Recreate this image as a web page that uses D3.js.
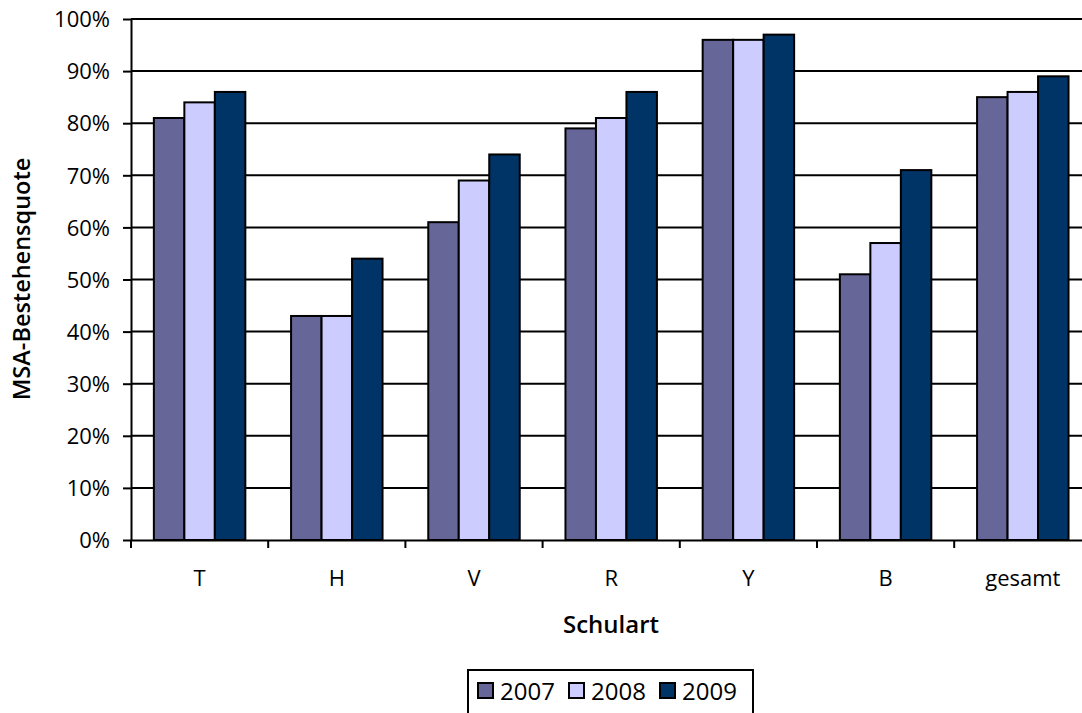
<!DOCTYPE html>
<html><head><meta charset="utf-8">
<script src="https://cdn.jsdelivr.net/npm/d3@7"></script>
<style>body{margin:0;background:#fff;overflow:hidden}svg{display:block}text{font-family:"Open Sans","Noto Sans",sans-serif;fill:#000}</style>
</head><body>
<svg id="c" width="1082" height="713"></svg>
<script>
const categories = ["T","H","V","R","Y","B","gesamt"];
const seriesNames = ["2007","2008","2009"];
const v2007 = [81,43,61,79,96,51,85];
const v2008 = [84,43,69,81,96,57,86];
const v2009 = [86,54,74,86,97,71,89];
const yTicks = [0,10,20,30,40,50,60,70,80,90,100];
const colors = ["#666699","#CCCCFF","#003366"];
const series = [v2007,v2008,v2009];

const svg = d3.select("#c");
const L = 131, T = 19, B = 540, catW = 137.2;
const R = L + catW*categories.length;
const x = d3.scaleBand().domain(categories).range([L,R]).paddingInner(0).paddingOuter(0);
const y = d3.scaleLinear().domain([0,100]).range([B,T]);

// gridlines
svg.append("g").selectAll("line").data(yTicks.filter(d=>d>0)).join("line")
  .attr("x1",L).attr("x2",R).attr("y1",d=>y(d)).attr("y2",d=>y(d))
  .attr("stroke","#000").attr("stroke-width",2);

// bars
const bw = x.bandwidth()/4.5;
series.forEach((vals,si)=>{
  svg.append("g").selectAll("rect").data(categories).join("rect")
    .attr("x",(c)=>x(c)+bw*0.75+si*bw)
    .attr("y",(c,i)=>y(vals[i]))
    .attr("width",bw)
    .attr("height",(c,i)=>y(0)-y(vals[i]))
    .attr("fill",colors[si]).attr("stroke","#000").attr("stroke-width",2);
});

// y axis
const ya = d3.axisLeft(y).tickValues(yTicks).tickFormat(d=>d+"%").tickSize(8).tickSizeOuter(0);
const yg = svg.append("g").attr("transform",`translate(${L},0)`).call(ya);
yg.attr("font-size",null).attr("font-family",null);
yg.select(".domain").attr("stroke","#000").attr("stroke-width",2);
yg.selectAll(".tick line").attr("stroke","#000").attr("stroke-width",2);
yg.selectAll(".tick text").attr("font-size",22).attr("x",-21).attr("dy","0.35em");

// x axis
const xa = d3.axisBottom(x).tickSize(0).tickSizeOuter(0);
const xg = svg.append("g").attr("transform",`translate(0,${B})`).call(xa);
xg.attr("font-size",null).attr("font-family",null);
xg.select(".domain").attr("stroke","#000").attr("stroke-width",2);
xg.selectAll(".tick text").attr("font-size",22).attr("y",46).attr("dy",0);
// boundary ticks
svg.append("g").selectAll("line").data(d3.range(categories.length+1)).join("line")
  .attr("x1",i=>L+i*catW).attr("x2",i=>L+i*catW).attr("y1",B).attr("y2",B+8)
  .attr("stroke","#000").attr("stroke-width",2);

// axis titles
svg.append("text").attr("x",611).attr("y",633).attr("text-anchor","middle")
  .attr("font-size",24).attr("font-weight","600").text("Schulart");
svg.append("text").attr("transform",`translate(30,${279}) rotate(-90)`).attr("text-anchor","middle")
  .attr("font-size",23.5).attr("font-weight","600").text("MSA-Bestehensquote");

// legend
const lg = svg.append("g");
lg.append("rect").attr("x",468).attr("y",670).attr("width",285).attr("height",50)
  .attr("fill","#fff").attr("stroke","#000").attr("stroke-width",2);
const lx = [478,569,660];
seriesNames.forEach((s,i)=>{
  lg.append("rect").attr("x",lx[i]).attr("y",683).attr("width",15).attr("height",15)
    .attr("fill",colors[i]).attr("stroke","#000").attr("stroke-width",2);
  lg.append("text").attr("x",lx[i]+22).attr("y",700).attr("font-size",24).text(s);
});
</script>
</body></html>
